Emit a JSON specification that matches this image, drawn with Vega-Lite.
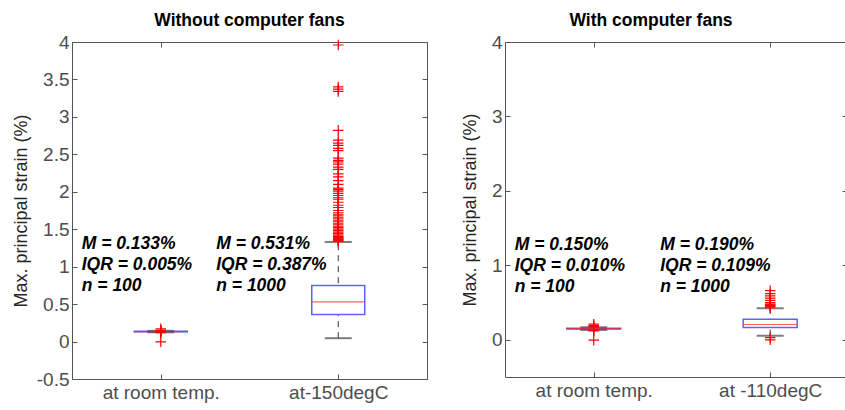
{
  "$schema": "https://vega.github.io/schema/vega-lite/v6.json",
  "padding": {"left": 11, "top": 11, "right": 0, "bottom": 0},
  "spacing": 32,
  "background": "white",
  "config": {
    "font": "Liberation Sans",
    "view": {"stroke": "#555", "strokeWidth": 1},
    "axis": {
      "grid": false,
      "domain": false,
      "labelFont": "Liberation Sans",
      "labelFontSize": 19,
      "labelColor": "#4d4d4d",
      "titleFont": "Liberation Sans",
      "titleFontSize": 18,
      "titleFontWeight": "normal",
      "titleColor": "#262626",
      "tickColor": "#555",
      "tickSize": -5,
      "labelPadding": 8
    },
    "title": {"font": "Liberation Sans", "fontSize": 17.5, "fontWeight": "bold", "color": "#000", "offset": 4}
  },
  "datasets": {
    "boxesL": [
      {"group": "at room temp.", "lo": 0.124, "q1": 0.131, "med": 0.133, "q3": 0.136, "hi": 0.143},
      {"group": "at-150degC", "lo": 0.045, "q1": 0.36, "med": 0.531, "q3": 0.747, "hi": 1.33}
    ],
    "outL": [
      {"group": "at room temp.", "v": -0.003}, {"group": "at room temp.", "v": 0.118}, {"group": "at room temp.", "v": 0.121},
      {"group": "at room temp.", "v": 0.126}, {"group": "at room temp.", "v": 0.14}, {"group": "at room temp.", "v": 0.146},
      {"group": "at room temp.", "v": 0.15}, {"group": "at room temp.", "v": 0.17},
      {"group": "at-150degC", "v": 3.96}, {"group": "at-150degC", "v": 3.4}, {"group": "at-150degC", "v": 3.37},
      {"group": "at-150degC", "v": 3.34}, {"group": "at-150degC", "v": 2.82}, {"group": "at-150degC", "v": 2.69},
      {"group": "at-150degC", "v": 2.65}, {"group": "at-150degC", "v": 2.62}, {"group": "at-150degC", "v": 2.58},
      {"group": "at-150degC", "v": 2.55}, {"group": "at-150degC", "v": 2.45}, {"group": "at-150degC", "v": 2.42},
      {"group": "at-150degC", "v": 2.4}, {"group": "at-150degC", "v": 2.37}, {"group": "at-150degC", "v": 2.33},
      {"group": "at-150degC", "v": 2.3}, {"group": "at-150degC", "v": 2.24}, {"group": "at-150degC", "v": 2.2},
      {"group": "at-150degC", "v": 2.15}, {"group": "at-150degC", "v": 2.1}, {"group": "at-150degC", "v": 2.05},
      {"group": "at-150degC", "v": 2.03}, {"group": "at-150degC", "v": 2.01}, {"group": "at-150degC", "v": 1.98},
      {"group": "at-150degC", "v": 1.95}, {"group": "at-150degC", "v": 1.92}, {"group": "at-150degC", "v": 1.9},
      {"group": "at-150degC", "v": 1.86}, {"group": "at-150degC", "v": 1.82}, {"group": "at-150degC", "v": 1.79},
      {"group": "at-150degC", "v": 1.75}, {"group": "at-150degC", "v": 1.72}, {"group": "at-150degC", "v": 1.7},
      {"group": "at-150degC", "v": 1.68}, {"group": "at-150degC", "v": 1.66}, {"group": "at-150degC", "v": 1.64},
      {"group": "at-150degC", "v": 1.62}, {"group": "at-150degC", "v": 1.6}, {"group": "at-150degC", "v": 1.58},
      {"group": "at-150degC", "v": 1.56}, {"group": "at-150degC", "v": 1.54}, {"group": "at-150degC", "v": 1.52},
      {"group": "at-150degC", "v": 1.5}, {"group": "at-150degC", "v": 1.48}, {"group": "at-150degC", "v": 1.46},
      {"group": "at-150degC", "v": 1.44}, {"group": "at-150degC", "v": 1.42}, {"group": "at-150degC", "v": 1.4},
      {"group": "at-150degC", "v": 1.39}, {"group": "at-150degC", "v": 1.38}, {"group": "at-150degC", "v": 1.37},
      {"group": "at-150degC", "v": 1.36}, {"group": "at-150degC", "v": 1.35}, {"group": "at-150degC", "v": 1.34}
    ],
    "textL": [
      {"group": "at room temp.", "at": 1.236, "label": "M = 0.133%\nIQR = 0.005%\nn = 100"},
      {"group": "at-150degC", "at": 1.236, "label": "M = 0.531%\nIQR = 0.387%\nn = 1000"}
    ],
    "boxesR": [
      {"group": "at room temp.", "lo": 0.132, "q1": 0.145, "med": 0.15, "q3": 0.155, "hi": 0.168},
      {"group": "at -110degC", "lo": 0.054, "q1": 0.166, "med": 0.205, "q3": 0.275, "hi": 0.425}
    ],
    "outR": [
      {"group": "at room temp.", "v": -0.005}, {"group": "at room temp.", "v": 0.12}, {"group": "at room temp.", "v": 0.125},
      {"group": "at room temp.", "v": 0.128}, {"group": "at room temp.", "v": 0.172}, {"group": "at room temp.", "v": 0.18},
      {"group": "at room temp.", "v": 0.19}, {"group": "at room temp.", "v": 0.21},
      {"group": "at -110degC", "v": 0.0}, {"group": "at -110degC", "v": 0.03}, {"group": "at -110degC", "v": 0.43},
      {"group": "at -110degC", "v": 0.45}, {"group": "at -110degC", "v": 0.46},
      {"group": "at -110degC", "v": 0.47}, {"group": "at -110degC", "v": 0.48},
      {"group": "at -110degC", "v": 0.5}, {"group": "at -110degC", "v": 0.53}, {"group": "at -110degC", "v": 0.56},
      {"group": "at -110degC", "v": 0.59}, {"group": "at -110degC", "v": 0.62}, {"group": "at -110degC", "v": 0.66}
    ],
    "textR": [
      {"group": "at room temp.", "at": 1.21, "label": "M = 0.150%\nIQR = 0.010%\nn = 100"},
      {"group": "at -110degC", "at": 1.21, "label": "M = 0.190%\nIQR = 0.109%\nn = 1000"}
    ]
  },
  "hconcat": [
    {
      "width": 355,
      "height": 337,
      "title": {"text": "Without computer fans"},
      "layer": [
        {
          "data": {"name": "boxesL"},
          "mark": {"type": "rule", "color": "#333", "strokeDash": [6, 5], "strokeWidth": 1},
          "encoding": {
            "x": {"field": "group", "type": "nominal", "sort": null,
                  "scale": {"type": "point", "padding": 0.5},
                  "axis": {"orient": "bottom", "title": null, "labelAngle": 0, "labelPadding": 9}},
            "y": {"field": "lo", "type": "quantitative",
                  "scale": {"domain": [-0.5, 4], "nice": false, "zero": false},
                  "axis": {"orient": "left", "title": "Max. principal strain (%)", "values": [-0.5, 0, 0.5, 1, 1.5, 2, 2.5, 3, 3.5, 4], "labelExpr": "'' + datum.value", "titlePadding": 6}},
            "y2": {"field": "hi"}
          }
        },
        {
          "data": {"name": "boxesL"},
          "mark": {"type": "bar", "fill": "white", "stroke": "#6060ff", "strokeWidth": 1.5, "size": 53},
          "encoding": {
            "x": {"field": "group", "type": "nominal", "sort": null, "axis": null},
            "y": {"field": "q1", "type": "quantitative", "axis": null},
            "y2": {"field": "q3"}
          }
        },
        {
          "data": {"name": "boxesL"},
          "mark": {"type": "tick", "color": "#444", "size": 27, "thickness": 2},
          "encoding": {
            "x": {"field": "group", "type": "nominal", "sort": null, "axis": null},
            "y": {"field": "lo", "type": "quantitative", "axis": null}
          }
        },
        {
          "data": {"name": "boxesL"},
          "mark": {"type": "tick", "color": "#444", "size": 27, "thickness": 2},
          "encoding": {
            "x": {"field": "group", "type": "nominal", "sort": null, "axis": null},
            "y": {"field": "hi", "type": "quantitative", "axis": null}
          }
        },
        {
          "data": {"name": "boxesL"},
          "mark": {"type": "tick", "color": "#ff2020", "size": 53, "thickness": 1.2},
          "encoding": {
            "x": {"field": "group", "type": "nominal", "sort": null, "axis": null},
            "y": {"field": "med", "type": "quantitative", "axis": null}
          }
        },
        {
          "data": {"name": "outL"},
          "mark": {"type": "point", "shape": "M-1,0L1,0M0,-1L0,1", "filled": false, "stroke": "#ff0000", "strokeWidth": 1.2, "size": 110, "opacity": 1},
          "encoding": {
            "x": {"field": "group", "type": "nominal", "sort": null, "axis": null},
            "y": {"field": "v", "type": "quantitative", "axis": null}
          }
        },
        {
          "data": {"name": "textL"},
          "transform": [{"filter": "datum.group === 'at room temp.'"}],
          "mark": {"type": "text", "align": "left", "baseline": "alphabetic", "dx": -79, "fontSize": 17.5, "fontStyle": "italic", "fontWeight": "bold", "lineHeight": 21, "lineBreak": "\n", "color": "#000"},
          "encoding": {
            "x": {"field": "group", "type": "nominal", "sort": null, "axis": null},
            "y": {"field": "at", "type": "quantitative", "axis": null},
            "text": {"field": "label"}
          }
        },
        {
          "data": {"name": "textL"},
          "transform": [{"filter": "datum.group === 'at-150degC'"}],
          "mark": {"type": "text", "align": "left", "baseline": "alphabetic", "dx": -122, "fontSize": 17.5, "fontStyle": "italic", "fontWeight": "bold", "lineHeight": 21, "lineBreak": "\n", "color": "#000"},
          "encoding": {
            "x": {"field": "group", "type": "nominal", "sort": null, "axis": null},
            "y": {"field": "at", "type": "quantitative", "axis": null},
            "text": {"field": "label"}
          }
        },
        {
          "data": {"name": "boxesL"},
          "mark": {"type": "rule", "opacity": 0},
          "encoding": {
            "x": {"field": "group", "type": "nominal", "sort": null,
                  "axis": {"orient": "top", "title": null, "labels": false}},
            "y": {"field": "lo", "type": "quantitative",
                  "axis": {"orient": "right", "title": null, "labels": false, "values": [-0.5, 0, 0.5, 1, 1.5, 2, 2.5, 3, 3.5, 4]}}
          }
        }
      ]
    },
    {
      "width": 342,
      "height": 335,
      "title": {"text": "With computer fans", "dx": -25},
      "layer": [
        {
          "data": {"name": "boxesR"},
          "mark": {"type": "rule", "color": "#333", "strokeDash": [6, 5], "strokeWidth": 1},
          "encoding": {
            "x": {"field": "group", "type": "nominal", "sort": null,
                  "scale": {"type": "point", "padding": 0.469, "align": 0.536},
                  "axis": {"orient": "bottom", "title": null, "labelAngle": 0, "labelPadding": 9}},
            "y": {"field": "lo", "type": "quantitative",
                  "scale": {"domain": [-0.5, 4], "nice": false, "zero": false},
                  "axis": {"orient": "left", "title": "Max. principal strain (%)", "values": [0, 1, 2, 3, 4], "labelExpr": "'' + datum.value", "titlePadding": 12}},
            "y2": {"field": "hi"}
          }
        },
        {
          "data": {"name": "boxesR"},
          "mark": {"type": "bar", "fill": "white", "stroke": "#6060ff", "strokeWidth": 1.5, "size": 54},
          "encoding": {
            "x": {"field": "group", "type": "nominal", "sort": null, "axis": null},
            "y": {"field": "q1", "type": "quantitative", "axis": null},
            "y2": {"field": "q3"}
          }
        },
        {
          "data": {"name": "boxesR"},
          "mark": {"type": "tick", "color": "#444", "size": 27, "thickness": 2},
          "encoding": {
            "x": {"field": "group", "type": "nominal", "sort": null, "axis": null},
            "y": {"field": "lo", "type": "quantitative", "axis": null}
          }
        },
        {
          "data": {"name": "boxesR"},
          "mark": {"type": "tick", "color": "#444", "size": 27, "thickness": 2},
          "encoding": {
            "x": {"field": "group", "type": "nominal", "sort": null, "axis": null},
            "y": {"field": "hi", "type": "quantitative", "axis": null}
          }
        },
        {
          "data": {"name": "boxesR"},
          "mark": {"type": "tick", "color": "#ff2020", "size": 54, "thickness": 1.2},
          "encoding": {
            "x": {"field": "group", "type": "nominal", "sort": null, "axis": null},
            "y": {"field": "med", "type": "quantitative", "axis": null}
          }
        },
        {
          "data": {"name": "outR"},
          "mark": {"type": "point", "shape": "M-1,0L1,0M0,-1L0,1", "filled": false, "stroke": "#ff0000", "strokeWidth": 1.2, "size": 110, "opacity": 1},
          "encoding": {
            "x": {"field": "group", "type": "nominal", "sort": null, "axis": null},
            "y": {"field": "v", "type": "quantitative", "axis": null}
          }
        },
        {
          "data": {"name": "textR"},
          "transform": [{"filter": "datum.group === 'at room temp.'"}],
          "mark": {"type": "text", "align": "left", "baseline": "alphabetic", "dx": -79, "fontSize": 17.5, "fontStyle": "italic", "fontWeight": "bold", "lineHeight": 21, "lineBreak": "\n", "color": "#000"},
          "encoding": {
            "x": {"field": "group", "type": "nominal", "sort": null, "axis": null},
            "y": {"field": "at", "type": "quantitative", "axis": null},
            "text": {"field": "label"}
          }
        },
        {
          "data": {"name": "textR"},
          "transform": [{"filter": "datum.group === 'at -110degC'"}],
          "mark": {"type": "text", "align": "left", "baseline": "alphabetic", "dx": -110, "fontSize": 17.5, "fontStyle": "italic", "fontWeight": "bold", "lineHeight": 21, "lineBreak": "\n", "color": "#000"},
          "encoding": {
            "x": {"field": "group", "type": "nominal", "sort": null, "axis": null},
            "y": {"field": "at", "type": "quantitative", "axis": null},
            "text": {"field": "label"}
          }
        },
        {
          "data": {"name": "boxesR"},
          "mark": {"type": "rule", "opacity": 0},
          "encoding": {
            "x": {"field": "group", "type": "nominal", "sort": null,
                  "axis": {"orient": "top", "title": null, "labels": false}},
            "y": {"field": "lo", "type": "quantitative",
                  "axis": {"orient": "right", "title": null, "labels": false, "values": [0, 1, 2, 3, 4]}}
          }
        }
      ]
    }
  ]
}
